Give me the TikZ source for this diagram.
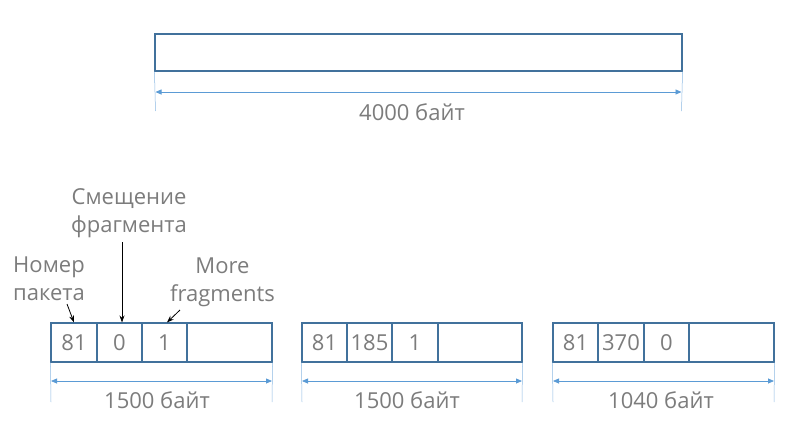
\documentclass[tikz,border=0pt]{standalone}
\usepackage{fontspec}
\setmainfont{Open Sans}
\usetikzlibrary{arrows.meta}
\definecolor{boxc}{HTML}{41719C}
\definecolor{dimc}{HTML}{5B9BD5}
\definecolor{txtc}{HTML}{7C7C7C}
\tikzset{
  cell/.style={draw=boxc, line width=1.1pt, minimum height=39pt, inner sep=0pt, text=txtc, font=\fontsize{22}{26}\selectfont},
  dimline/.style={draw=dimc, line width=0.8pt, {Triangle[length=6pt,width=5pt]}-{Triangle[length=6pt,width=5pt]}},
  extline/.style={draw=dimc!70, line width=0.5pt},
  dimlabel/.style={text=txtc, font=\fontsize{22}{26}\selectfont, anchor=base, inner sep=0pt},
  callout/.style={text=txtc, font=\fontsize{22}{28}\selectfont, align=center, inner sep=0pt},
  ptr/.style={draw=black, line width=0.8pt, -{Stealth[length=7pt,width=5pt]}}
}
\begin{document}
\begin{tikzpicture}[x=1pt,y=-1pt]
\useasboundingbox (0,0) rectangle (811,426);
% top packet
\node[cell, minimum width=527pt, minimum height=37pt] (big) at (418.5,52.5) {};
\coordinate (bl) at (155.5,111);
\coordinate (br) at (681.5,111);
\draw[extline] (big.south west) -- (bl);
\draw[extline] (big.south east) -- (br);
\draw[dimline] ([yshift=19pt]bl) -- ([yshift=19pt]br);
\node[dimlabel] (bigl) at (412,120) {4000 байт};

% fragment 1
\node[cell, minimum width=46pt] (c11) at (74,342.5) {81};
\node[cell, minimum width=45pt] (c12) at (119.5,342.5) {0};
\node[cell, minimum width=45pt] (c13) at (164.5,342.5) {1};
\node[cell, minimum width=85pt] (c14) at (229.5,342.5) {};
% fragment 2
\node[cell, minimum width=45pt] (c21) at (324.5,342.5) {81};
\node[cell, minimum width=45pt] (c22) at (369.5,342.5) {185};
\node[cell, minimum width=46pt] (c23) at (415,342.5) {1};
\node[cell, minimum width=84pt] (c24) at (480,342.5) {};
% fragment 3
\node[cell, minimum width=45pt] (c31) at (575.5,342.5) {81};
\node[cell, minimum width=46pt] (c32) at (621,342.5) {370};
\node[cell, minimum width=45pt] (c33) at (666.5,342.5) {0};
\node[cell, minimum width=85pt] (c34) at (731.5,342.5) {};

% dimensions of fragments
\coordinate (e1l) at (51,402); \coordinate (e1r) at (272,402);
\coordinate (e2l) at (302,402); \coordinate (e2r) at (522,402);
\coordinate (e3l) at (553,402); \coordinate (e3r) at (774,402);
\draw[extline] (c11.south west) -- (e1l);
\draw[extline] (c14.south east) -- (e1r);
\draw[extline] (c21.south west) -- (e2l);
\draw[extline] (c24.south east) -- (e2r);
\draw[extline] (c31.south west) -- (e3l);
\draw[extline] (c34.south east) -- (e3r);
\draw[dimline] ([yshift=21pt]e1l) -- ([yshift=21pt]e1r);
\draw[dimline] ([yshift=21pt]e2l) -- ([yshift=21pt]e2r);
\draw[dimline] ([yshift=21pt]e3l) -- ([yshift=21pt]e3r);
\node[dimlabel] (l1) at (157,408) {1500 байт};
\node[dimlabel] (l2) at (407,408) {1500 байт};
\node[dimlabel] (l3) at (661,408) {1040 байт};

% callouts
\node[callout] (num) at (49,279) {Номер\\пакета};
\node[callout] (off) at (129,213) {Смещение\\фрагмента};
\node[callout] (mf) at (222.5,282) {More\\fragments};
\coordinate (p1) at (67,304);
\coordinate (p2) at (122,242);
\coordinate (p3) at (180,310);
\draw[ptr] (p1) -- (c11.north);
\draw[ptr] (p2) -- ([xshift=2.5pt]c12.north);
\draw[ptr] (p3) -- ([xshift=2.5pt]c13.north);
\end{tikzpicture}
\end{document}
